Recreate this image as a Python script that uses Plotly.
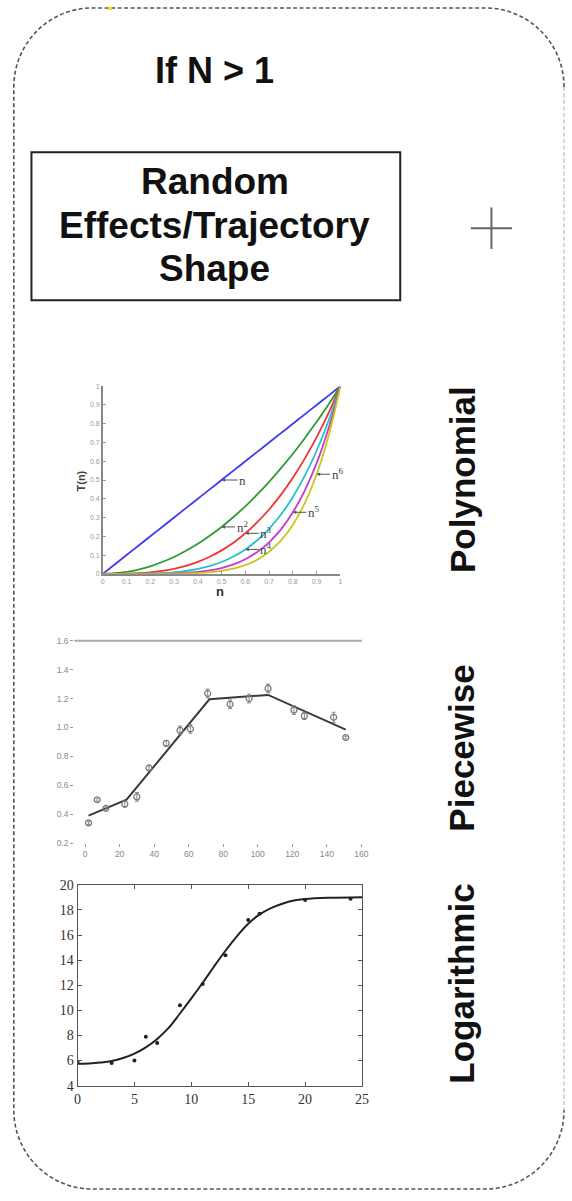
import plotly.graph_objects as go

W, H = 572, 1201

# ---------------- polynomial panel: T(n) = n^k ----------------
poly_n = [0, .05, .1, .15, .2, .25, .3, .35, .4, .45, .5, .55, .6, .65, .7, .75, .8, .85, .9, .95, 1]
poly_k1 = [0, .05, .1, .15, .2, .25, .3, .35, .4, .45, .5, .55, .6, .65, .7, .75, .8, .85, .9, .95, 1]
poly_k2 = [0, .003, .01, .023, .04, .063, .09, .123, .16, .203, .25, .303, .36, .423, .49, .563, .64, .723, .81, .903, 1]
poly_k3 = [0, 0, .001, .003, .008, .016, .027, .043, .064, .091, .125, .166, .216, .275, .343, .422, .512, .614, .729, .857, 1]
poly_k4 = [0, 0, 0, .001, .002, .004, .008, .015, .026, .041, .063, .092, .13, .179, .24, .316, .41, .522, .656, .815, 1]
poly_k5 = [0, 0, 0, 0, 0, .001, .002, .005, .01, .018, .031, .05, .078, .116, .168, .237, .328, .444, .59, .774, 1]
poly_k6 = [0, 0, 0, 0, 0, 0, .001, .002, .004, .008, .016, .028, .047, .075, .118, .178, .262, .377, .531, .735, 1]
poly_series = [poly_k1, poly_k2, poly_k3, poly_k4, poly_k5, poly_k6]
poly_colors = ["#3c3cf2", "#2f9a33", "#f03434", "#22c4c8", "#c936cf", "#c8c812"]
poly_ticks = [0, .1, .2, .3, .4, .5, .6, .7, .8, .9, 1]
poly_ticktext = ["0", "0.1", "0.2", "0.3", "0.4", "0.5", "0.6", "0.7", "0.8", "0.9", "1"]
# curve labels: text, and the point on the curve the arrow points at
poly_label_text = ["n", "n<sup>2</sup>", "n<sup>3</sup>", "n<sup>4</sup>", "n<sup>5</sup>", "n<sup>6</sup>"]
poly_label_x = [0.5, 0.5, 0.6, 0.6, 0.8, 0.9]
poly_label_y = [0.5, 0.25, 0.216, 0.13, 0.328, 0.531]

# ---------------- piecewise panel ----------------
pw_x = [2, 7, 12, 23, 30, 37, 47, 55, 61, 71, 84, 95, 106, 121, 127, 144, 151]
pw_y = [0.34, 0.50, 0.44, 0.47, 0.52, 0.72, 0.89, 0.98, 0.99, 1.235, 1.16, 1.20, 1.27, 1.12, 1.08, 1.07, 0.93]
pw_err = [0.01, 0.01, 0.01, 0.02, 0.03, 0.015, 0.02, 0.03, 0.03, 0.03, 0.03, 0.03, 0.03, 0.03, 0.025, 0.035, 0.01]
pw_fit_x = [2, 24, 72, 106, 151]
pw_fit_y = [0.39, 0.50, 1.195, 1.225, 0.985]
pw_xticks = [0, 20, 40, 60, 80, 100, 120, 140, 160]
pw_yticks = [0.2, 0.4, 0.6, 0.8, 1.0, 1.2, 1.4, 1.6]
pw_yticktext = ["0.2", "0.4", "0.6", "0.8", "1.0", "1.2", "1.4", "1.6"]

# ---------------- logistic panel ----------------
lg_x = [0, 3, 5, 6, 7, 9, 11, 13, 15, 16, 20, 24]
lg_y = [5.9, 5.8, 6.0, 7.9, 7.4, 10.4, 12.1, 14.4, 17.2, 17.7, 18.8, 18.9]
lg_fit_x = [0, 1, 2, 3, 4, 5, 6, 7, 8, 9, 10, 11, 12, 13, 14, 15, 16, 17, 18, 19, 20, 22, 25]
lg_fit_y = [5.75, 5.77, 5.84, 5.96, 6.2, 6.55, 7.05, 7.72, 8.6, 9.75, 10.95, 12.2, 13.5,
            14.75, 15.9, 16.9, 17.65, 18.15, 18.5, 18.75, 18.87, 18.97, 19.02]

# ---------------- text ----------------
title_text = "If N > 1"
box_lines = ["Random", "Effects/Trajectory", "Shape"]
side_labels = ["Polynomial", "Piecewise", "Logarithmic"]


def fx(px):
    return px / W


def fy(py):
    return 1 - py / H


fig = go.Figure()

for ys, col in zip(poly_series, poly_colors):
    fig.add_trace(go.Scatter(x=poly_n, y=ys, mode="lines", line=dict(color=col, width=1.8, shape="spline"),
                             xaxis="x", yaxis="y", hoverinfo="skip"))

fig.add_trace(go.Scatter(x=pw_fit_x, y=pw_fit_y, mode="lines", line=dict(color="#3a3a3a", width=2),
                         xaxis="x2", yaxis="y2", hoverinfo="skip"))
fig.add_trace(go.Scatter(x=pw_x, y=pw_y, mode="markers",
                         marker=dict(symbol="circle-open", size=6, color="#777", line=dict(width=1.2)),
                         error_y=dict(type="data", array=pw_err, visible=True, color="#888", thickness=1, width=2),
                         xaxis="x2", yaxis="y2", hoverinfo="skip"))

fig.add_trace(go.Scatter(x=lg_fit_x, y=lg_fit_y, mode="lines", line=dict(color="#222", width=2, shape="spline"),
                         xaxis="x3", yaxis="y3", hoverinfo="skip"))
fig.add_trace(go.Scatter(x=lg_x, y=lg_y, mode="markers", marker=dict(size=4, color="#222"),
                         xaxis="x3", yaxis="y3", hoverinfo="skip"))

poly_axis = dict(range=[0, 1], showgrid=False, zeroline=False, showline=True, linecolor="#888", linewidth=1.5,
                 ticks="inside", ticklen=3, tickcolor="#999", tickvals=poly_ticks, ticktext=poly_ticktext,
                 tickfont=dict(size=7, color="#999", family="Liberation Sans"))
pw_common = dict(showgrid=False, zeroline=False, showline=False, ticks="outside", ticklen=3, tickcolor="#999",
                 tickfont=dict(size=8.5, color="#888", family="Liberation Sans"))
lg_common = dict(showgrid=False, zeroline=False, showline=True, mirror="ticks", linecolor="#555", linewidth=1.2,
                 ticks="inside", ticklen=4, tickcolor="#555",
                 tickfont=dict(size=14, color="#333", family="Liberation Serif"))

fig.update_layout(
    width=W, height=H, margin=dict(l=0, r=0, t=0, b=0), paper_bgcolor="white", plot_bgcolor="white",
    showlegend=False,
    xaxis=dict(domain=[fx(100.7), fx(343)], anchor="y", **poly_axis),
    yaxis=dict(domain=[fy(574), fy(384)], anchor="x", **poly_axis),
    xaxis2=dict(domain=[fx(71.7), fx(365)], anchor="y2", range=[-6.25, 160.4], tickvals=pw_xticks, **pw_common),
    yaxis2=dict(domain=[fy(846.7), fy(641.7)], anchor="x2", range=[0.2, 1.6], tickvals=pw_yticks,
                ticktext=pw_yticktext, **pw_common),
    xaxis3=dict(domain=[fx(75), fx(365)], anchor="y3", range=[0, 25], dtick=5, **lg_common),
    yaxis3=dict(domain=[fy(1092.3), fy(889)], anchor="x3", range=[4, 20], dtick=2, **lg_common),
)


def label(px, py, text, size, color, family="Liberation Sans", bold=True, angle=0):
    return dict(x=fx(px), y=fy(py), xref="paper", yref="paper", text=text, showarrow=False,
                xanchor="center", yanchor="middle", textangle=angle,
                font=dict(size=size, color=color, family=family, weight="bold" if bold else "normal"))


anns = []
# curve labels on the polynomial panel
for t, x, y in zip(poly_label_text, poly_label_x, poly_label_y):
    anns.append(dict(x=x, y=y, xref="x", yref="y", text=t, showarrow=True, ax=21, ay=0, arrowhead=2,
                     arrowsize=0.7, arrowwidth=1, arrowcolor="#555", standoff=0,
                     font=dict(size=13, color="#444", family="Liberation Serif")))
anns.append(label(79, 480, "T(n)", 11, "#444", angle=-90))
anns.append(label(220, 592, "n", 13, "#333"))

# heading and boxed caption
anns.append(label(215, 64, title_text, 36, "#111"))
for line, cy in zip(box_lines, [177, 221.5, 265]):
    anns.append(label(215, cy, line, 37, "#111"))

# vertical panel names
for lab, cy in zip(side_labels, [479, 751, 989]):
    anns.append(label(467, cy, lab, 35, "#111", angle=-90))

fig.update_layout(annotations=anns)

shapes = []
# caption box
shapes.append(dict(type="rect", xref="paper", yref="paper", x0=fx(28), x1=fx(404), y0=fy(297), y1=fy(147),
                   line=dict(color="#222", width=2)))
# plus sign
shapes.append(dict(type="line", xref="paper", yref="paper", x0=fx(476), x1=fx(518), y0=fy(224), y1=fy(224),
                   line=dict(color="#666", width=2)))
shapes.append(dict(type="line", xref="paper", yref="paper", x0=fx(497), x1=fx(497), y0=fy(203), y1=fy(245),
                   line=dict(color="#666", width=2)))
# top frame line of the piecewise panel
shapes.append(dict(type="line", xref="x2 domain", yref="y2 domain", x0=0, x1=1, y0=1, y1=1,
                   line=dict(color="#aaa", width=2)))

# dashed rounded outline
L, R, T, B, r = 10, 571, 1, 1197, 80
k = 0.5523 * r


def P(x, y):
    return f"{fx(x):.5f},{fy(y):.5f}"


outline = (f"M {P(R, T + r)} C {P(R, T + r - k)} {P(R - r + k, T)} {P(R - r, T)} "
           f"L {P(L + r, T)} C {P(L + r - k, T)} {P(L, T + r - k)} {P(L, T + r)} "
           f"L {P(L, B - r)} C {P(L, B - r + k)} {P(L + r - k, B)} {P(L + r, B)} "
           f"L {P(R - r, B)} C {P(R - r + k, B)} {P(R, B - r + k)} {P(R, B - r)}")
shapes.append(dict(type="path", xref="paper", yref="paper", path=outline,
                   line=dict(color="#555", width=1.6, dash="4px,2.5px")))
shapes.append(dict(type="line", xref="paper", yref="paper", x0=fx(R), x1=fx(R), y0=fy(T + r), y1=fy(B - r),
                   line=dict(color="#bbb", width=1.2, dash="4px,2.5px")))
# small yellow fleck on the top edge
shapes.append(dict(type="rect", xref="paper", yref="paper", x0=fx(106), x1=fx(110), y0=fy(3), y1=fy(0),
                   line=dict(width=0), fillcolor="#f2e600"))

fig.update_layout(shapes=shapes)
fig.write_html("out.html")
